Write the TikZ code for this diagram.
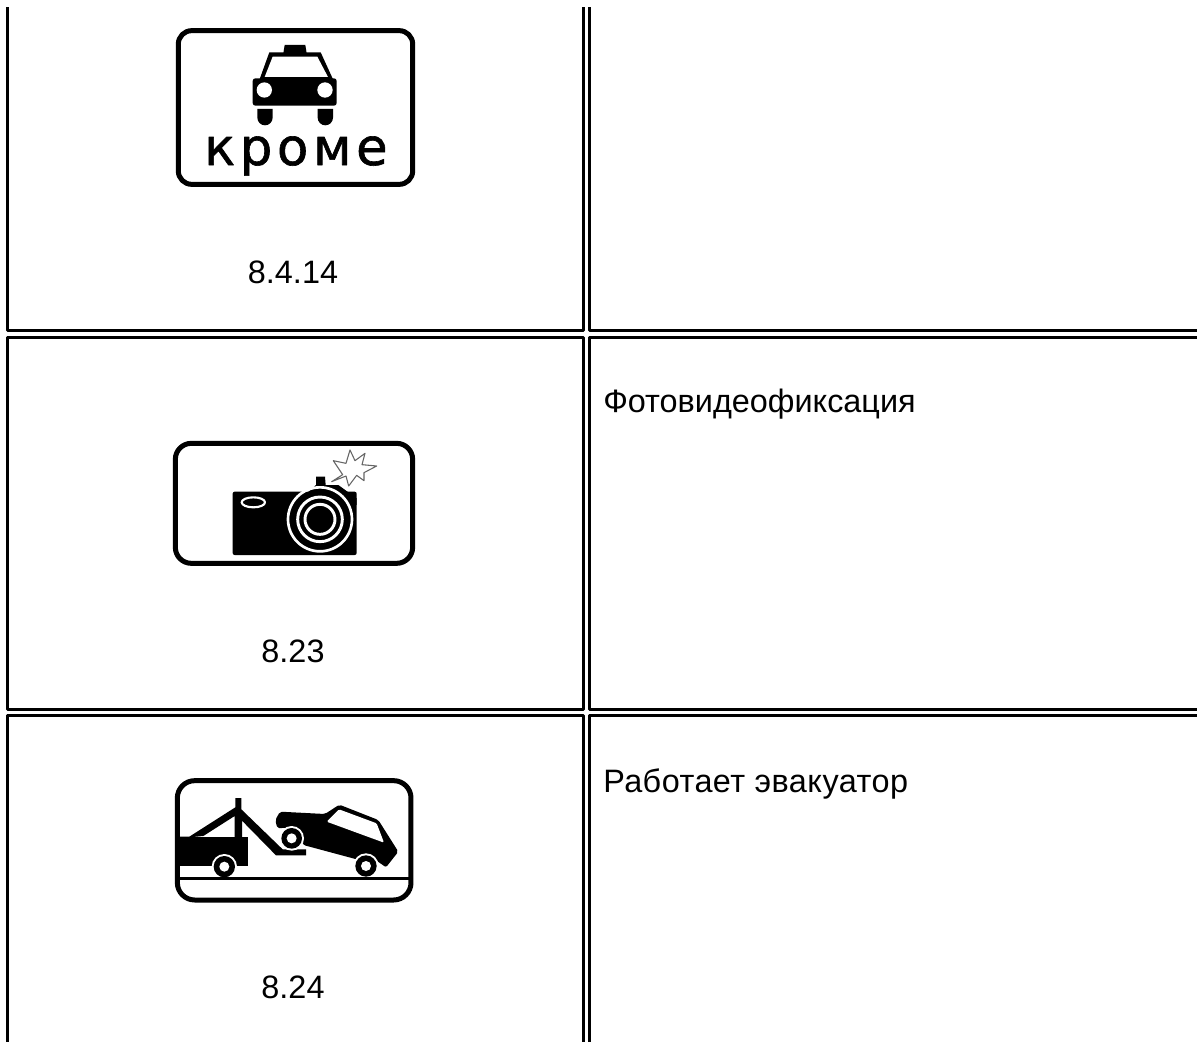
\documentclass[tikz,border=0pt]{standalone}
\usepackage{fontspec}
\setmainfont{Liberation Sans}
\newfontfamily\spacedfont[LetterSpace=9,FakeBold=1.2]{DejaVu Sans}
\newfontfamily\widefont[LetterSpace=1.45]{Liberation Sans}
\tikzset{
  rule/.style={line width=2.25pt,draw=black},
  lbl/.style={font=\fontsize{24.3pt}{28pt}\selectfont,inner sep=0pt,text=black},
  plate/.style={line width=3.75pt,draw=black,fill=white},
  ink/.style={fill=black,draw=none},
  blank/.style={fill=white,draw=none}
}
\begin{document}
\begin{tikzpicture}[x=0.75pt,y=-0.75pt,line join=round]
\useasboundingbox (0,0) rectangle (1197,1042);
\fill[white] (0,0) rectangle (1197,1042);
\begin{scope}
\clip (0,0) rectangle (1197,1042);
% table cells
\draw[rule] (7.5,7) -- (7.5,330.5) -- (583.5,330.5) -- (583.5,7);
\draw[rule] (589.5,7) -- (589.5,330.5) -- (1210,330.5);
\draw[rule] (7.5,337.5) rectangle (583.5,709.5);
\draw[rule] (1210,337.5) -- (589.5,337.5) -- (589.5,709.5) -- (1210,709.5);
\draw[rule] (7.5,1060) -- (7.5,715.5) -- (583.5,715.5) -- (583.5,1060);
\draw[rule] (1210,715.5) -- (589.5,715.5) -- (589.5,1060);
\end{scope}
% texts
\node[lbl,anchor=base] (t1) at (293,283) {8.4.14};
\node[lbl,anchor=base] (t2) at (293,662) {8.23};
\node[lbl,anchor=base] (t3) at (293,998) {8.24};
\node[lbl,anchor=base west] (d2) at (603,412) {Фотовидеофиксация};
\node[lbl,anchor=base west] (d3) at (603,792) {\widefont Работает эвакуатор};
% sign 8.4.14
\begin{scope}[shift={(160,15)},scale=1/3]
\draw[plate,rounded corners=10pt] (55,47) rectangle (758,508);
\fill[ink] (370,115) -- (374,90) -- (436,90) -- (440,115) -- cycle;
\fill[ink,rounded corners=2pt] (278,190) -- (530,190) -- (530,272) -- (278,272) -- cycle;
\fill[ink] (298,195) -- (328,112) -- (482,112) -- (520,195) -- cycle;
\fill[blank] (314,186) -- (338,125) -- (472,125) -- (504,186) -- cycle;
\fill[blank] (313,225) circle (23);
\fill[blank] (495,225) circle (23);
\fill[ink] (292,282) -- (338,282) -- (338,308) arc (0:180:23) -- cycle;
\fill[ink] (473,282) -- (519,282) -- (519,308) arc (0:180:23) -- cycle;
\end{scope}
\node[inner sep=0pt,anchor=base,font=\fontsize{38.4pt}{44pt}\spacedfont] (k) at (296,165) {кроме};
% sign 8.23
\begin{scope}[shift={(160,430)},scale=1/3]
\draw[plate,rounded corners=12pt] (46,40) rectangle (758,400);
\fill[ink,rounded corners=1.5pt] (218,185) -- (590,185) -- (590,375) -- (218,375) -- cycle;
\fill[ink] (440,190) -- (468,165) -- (468,140) -- (495,140) -- (497,165) -- (535,165) -- (590,205) -- (590,225) -- cycle;
\draw[white,line width=1.6pt] (280,217) ellipse (35 and 15);
\draw[white,line width=2pt] (480,268) circle (96);
\draw[white,line width=2.2pt] (480,268) circle (67);
\draw[white,line width=2.2pt] (480,268) circle (45);
\draw[black!60,line width=0.8pt,fill=white] (515,155) -- (548,134) -- (520,92) -- (558,100) -- (570,60) -- (585,92) -- (615,70) -- (606,104) -- (650,108) -- (612,128) -- (612,152) -- (590,136) -- (566,168) -- (558,138) -- cycle;
\end{scope}
% sign 8.24
\begin{scope}[shift={(160,770)},scale=1/3]
\draw[plate,rounded corners=13pt] (52,32) rectangle (753,390);
% truck
\fill[ink] (55,200) -- (265,200) -- (265,288) -- (55,288) -- cycle;
\fill[ink] (55,205) -- (55,200) -- (88,200) -- (226,112) -- (226,84) -- (244,84) -- (244,118) -- (368,238) -- (438,238) -- (438,256) -- (348,256) -- (246,152) -- (246,205) -- (224,205) -- (224,138) -- (130,198) -- cycle;
\fill[blank] (193,290) circle (38);
\fill[ink] (193,290) circle (32);
\fill[blank] (193,290) circle (15);
% car
\fill[ink,rounded corners=1.5pt] (360,125) -- (495,132) -- (538,104) -- (655,150) -- (715,245) -- (678,292) -- (640,265) -- (590,268) -- (430,225) -- (395,172) -- (352,175) -- (346,150) -- cycle;
\fill[blank,rounded corners=1pt] (500,155) -- (537,118) -- (650,160) -- (672,218) -- cycle;
\fill[blank] (395,205) circle (37);
\fill[ink] (395,205) circle (31);
\fill[blank] (395,205) circle (15);
\fill[blank] (618,288) circle (38);
\fill[ink] (618,288) circle (32);
\fill[blank] (618,288) circle (15);
\draw[black,line width=2pt] (55,325) -- (750,325);
\end{scope}
\end{tikzpicture}
\end{document}
